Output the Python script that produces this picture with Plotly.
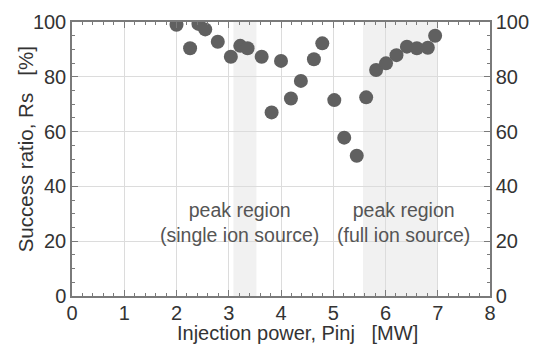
import plotly.graph_objects as go

# Data
power_mw = [2.00, 2.26, 2.42, 2.55, 2.79, 3.04, 3.22, 3.36, 3.63, 3.82, 4.00,
            4.19, 4.38, 4.63, 4.79, 5.02, 5.21, 5.45, 5.63, 5.82, 6.01, 6.21,
            6.41, 6.60, 6.81, 6.95]
success_pct = [99.0, 90.4, 99.3, 97.3, 92.8, 87.3, 91.3, 90.4, 87.3, 67.0, 85.8,
               72.1, 78.5, 86.4, 92.2, 71.5, 57.8, 51.2, 72.5, 82.5, 84.9, 87.9,
               91.0, 90.4, 90.6, 95.0]

regions = [(3.09, 3.53), (5.57, 7.00)]
region_labels = ["peak region<br>(single ion source)", "peak region<br>(full ion source)"]
label_x = [3.2, 6.34]
label_y = 27

x_ticks = [0, 1, 2, 3, 4, 5, 6, 7, 8]
y_ticks = [0, 20, 40, 60, 80, 100]
x_title = "Injection power, Pinj\u00a0\u00a0 [MW]"
y_title = "Success ratio, Rs\u00a0\u00a0 [%]"

FONT = "Liberation Sans, Arial, Helvetica, sans-serif"
TXT = "#333333"
AX = "#7a7a7a"
GRID = "#dcdcdc"

fig = go.Figure()
fig.add_trace(go.Scatter(
    x=power_mw, y=success_pct, mode="markers",
    marker=dict(size=14, color="#606060", line=dict(width=0)),
    showlegend=False, hoverinfo="x+y"))
# invisible traces to anchor the mirrored axes
fig.add_trace(go.Scatter(x=[0], y=[0], xaxis="x2", yaxis="y2", mode="markers",
                         marker=dict(opacity=0), showlegend=False, hoverinfo="skip"))

for x0, x1 in regions:
    fig.add_shape(type="rect", xref="x", yref="paper", x0=x0, x1=x1, y0=0, y1=1,
                  fillcolor="#f1f1f1", line=dict(width=0), layer="below")

for txt, lx in zip(region_labels, label_x):
    fig.add_annotation(x=lx, y=label_y, xref="x", yref="y", text=txt,
                       showarrow=False, font=dict(family=FONT, size=19.5, color="#555555"),
                       align="center")

fig.add_annotation(x=0.539, y=-0.136, xref="paper", yref="paper", text=x_title,
                   showarrow=False, xanchor="center", yanchor="middle", borderpad=0,
                   font=dict(family=FONT, size=20, color=TXT))
fig.add_annotation(x=-0.112, y=0.536, xref="paper", yref="paper", text=y_title,
                   showarrow=False, xanchor="center", yanchor="middle", textangle=-90,
                   font=dict(family=FONT, size=20.5, color=TXT))

axis_common = dict(
    showline=True, linecolor=AX, linewidth=1.5,
    ticks="inside", tickcolor=AX, ticklen=6, tickwidth=1.2,
    tickfont=dict(family=FONT, size=20, color=TXT),
    zeroline=False, automargin=False,
)

# page body has an 8px margin; figure size and margins compensate for it
fig.update_layout(
    width=529, height=337,
    margin=dict(l=64, r=47, t=14, b=49),
    paper_bgcolor="white", plot_bgcolor="white",
    font=dict(family=FONT, color=TXT),
    xaxis=dict(
        range=[0, 8], tickvals=x_ticks, showgrid=True, gridcolor=GRID, gridwidth=1,
        minor=dict(dtick=0.2, ticks="inside", ticklen=3, tickcolor=AX, showgrid=False),
        ticklabelstandoff=-2,
        **axis_common),
    xaxis2=dict(
        range=[0, 8], tickvals=x_ticks, overlaying="x", side="top", showgrid=False,
        showticklabels=False,
        minor=dict(dtick=0.2, ticks="inside", ticklen=3, tickcolor=AX, showgrid=False),
        **axis_common),
    yaxis=dict(
        range=[0, 100], tickvals=y_ticks, showgrid=True, gridcolor=GRID, gridwidth=1,
        minor=dict(dtick=5, ticks="inside", ticklen=3, tickcolor=AX, showgrid=False),
        ticklabelstandoff=0,
        **axis_common),
    yaxis2=dict(
        range=[0, 100], tickvals=y_ticks, overlaying="y", side="right", showgrid=False,
        minor=dict(dtick=5, ticks="inside", ticklen=3, tickcolor=AX, showgrid=False),
        ticklabelstandoff=0,
        **axis_common),
)

fig.write_html("out.html")
